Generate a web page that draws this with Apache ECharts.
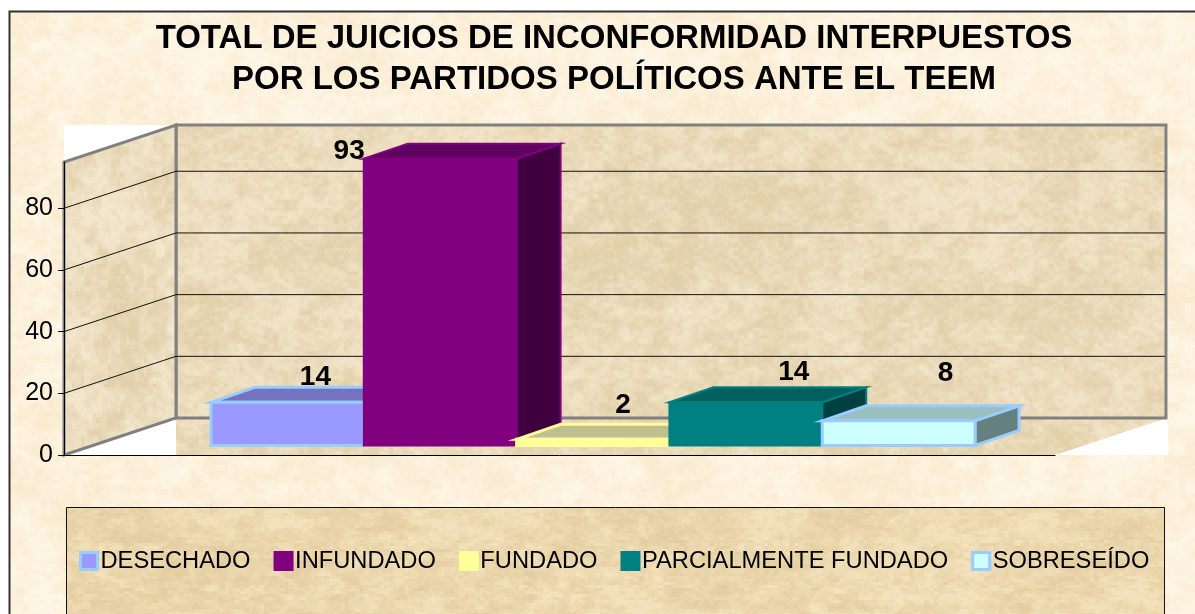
<!DOCTYPE html>
<html><head><meta charset="utf-8">
<style>html,body{margin:0;padding:0;background:#fff}#c{width:1195px;height:614px}</style>
<script src="https://cdn.jsdelivr.net/npm/echarts@6/dist/echarts.min.js"></script>
</head><body><div id="c"></div>
<script>
// ---------- data ----------
const titleLines = ['TOTAL DE JUICIOS DE INCONFORMIDAD INTERPUESTOS','POR LOS PARTIDOS POLÍTICOS ANTE EL TEEM'];
const seriesNames = ['DESECHADO','INFUNDADO','FUNDADO','PARCIALMENTE FUNDADO','SOBRESEÍDO'];
const seriesValues = [14,93,2,14,8];
const yTicks = [0,20,40,60,80];
const yMax = 95;

// ---------- style ----------
const front = ['#9999FF','#800080','#FFFF99','#008080','#CCFFFF'];
const topc  = ['#7373BF','#600060','#BFBF8F','#006060','#99BFBF'];
const side  = ['#4D4D80','#400040','#808060','#004040','#668080'];
const edge  = ['#99CCFF','#800080','#FFFF99','#008080','#99CCFF'];
const labelOffset = [[28,-25],[-91,-7],[30,-34],[48,-30],[47,-48]];
const wallDX = 112, wallDY = -37;      // depth of the chart box
const barShiftX = 33.5, barShiftY = -9.5; // bars stand inside the floor
const barDX = 44, barDY = -15;         // depth of each bar
const barShare = 0.1542;               // bar width as a share of the band
const GREY = '#808080';

// deterministic mottled paper texture
function hash(x,y,s){const v=Math.sin(x*127.1+y*311.7+s*74.7)*43758.5453;return v-Math.floor(v);}
function vnoise(x,y,s){
  const xi=Math.floor(x),yi=Math.floor(y),fx=x-xi,fy=y-yi;
  const u=fx*fx*(3-2*fx),w=fy*fy*(3-2*fy);
  const a=hash(xi,yi,s),b=hash(xi+1,yi,s),c=hash(xi,yi+1,s),d=hash(xi+1,yi+1,s);
  return (a+(b-a)*u)*(1-w)+(c+(d-c)*u)*w;
}
function texture(light,dark,block,seed,sx,sy){
  const W=1195,H=614,cv=document.createElement('canvas');cv.width=W;cv.height=H;
  const g=cv.getContext('2d');
  for(let y=0;y<H;y+=block)for(let x=0;x<W;x+=block){
    let n=0.3*vnoise(x/(70*sx),y/(50*sy),seed)+0.35*vnoise(x/(16*sx),y/(12*sy),seed+1)
         +0.35*vnoise(x/(5*sx),y/(4*sy),seed+2);
    n=Math.min(1,Math.max(0,(n-0.25)*2));
    n=Math.min(1,Math.max(0,n+(hash(x,y,seed+3)-0.5)*0.25));
    const c=light.map((l,i)=>Math.round(l+(dark[i]-l)*n));
    g.fillStyle='rgb('+c.join(',')+')';g.fillRect(x,y,block,block);
  }
  return cv;
}
const paperTex = texture([254,246,230],[250,235,208],3,1,1.2,1.2);
const wallTex  = texture([241,228,200],[226,208,170],2,5,1,1);
const sideTex  = texture([243,231,206],[226,208,170],3,9,0.9,1.5);
const boxTex   = texture([243,226,188],[228,205,160],3,13,1,0.7);
const fill = cv => ({image:cv,repeat:'repeat'});

function renderFrame(params,api){
  const O=api.coord([0,0]), T=api.coord([0,yMax]);
  const band=api.size([1,0])[0];
  const x0=O[0]-band/2, x1=O[0]+band/2, y0=O[1], yT=T[1];
  const kids=[];
  // white chart-area backing
  kids.push({type:'rect',shape:{x:x0,y:yT+wallDY,width:band+wallDX+1,height:y0-yT-wallDY},style:{fill:'#fff'}});
  // floor
  kids.push({type:'polygon',shape:{points:[[x0+wallDX,y0+wallDY],[x1+wallDX,y0+wallDY],[x1,y0],[x0+wallDX,y0]]},style:{fill:fill(wallTex)}});
  // back wall
  kids.push({type:'rect',shape:{x:x0+wallDX,y:yT+wallDY,width:band-1,height:y0-yT},style:{fill:fill(wallTex),stroke:GREY,lineWidth:3}});
  // left wall
  kids.push({type:'polygon',shape:{points:[[x0,y0],[x0+wallDX,y0+wallDY],[x0+wallDX,yT+wallDY],[x0,yT]]},style:{fill:fill(sideTex),stroke:GREY,lineWidth:3}});
  // grid lines
  yTicks.slice(1).forEach(t=>{
    const y=api.coord([0,t])[1];
    kids.push({type:'polyline',shape:{points:[[x0,y],[x0+wallDX,y+wallDY],[x1+wallDX-2,y+wallDY]]},style:{fill:null,stroke:'#111',lineWidth:1}});
  });
  return {type:'group',children:kids};
}

function renderBar(i){
  return function(params,api){
    const v=api.value(1), B=api.coord([0,0]), P=api.coord([0,v]);
    const band=api.size([1,0])[0], w=band*barShare;
    const x=B[0]+(i-2.5)*w+barShiftX, X=x+w, y=P[1]+barShiftY, b=B[1]+barShiftY;
    const s={stroke:edge[i],lineWidth:i===1||i===3?2:3,lineJoin:'miter',miterLimit:10};
    const dx=barDX,dy=barDY;
    return {type:'group',children:[
      {type:'polygon',shape:{points:[[X,y],[X+dx,y+dy],[X+dx,b+dy],[X,b]]},style:Object.assign({fill:side[i]},s)},
      {type:'polygon',shape:{points:[[x,y],[x+dx,y+dy],[X+dx,y+dy],[X,y]]},style:Object.assign({fill:topc[i]},s)},
      {type:'rect',shape:{x:x,y:y,width:w,height:b-y},style:Object.assign({fill:front[i]},s)},
      {type:'text',z2:50,style:{text:String(v),x:(x+X)/2+labelOffset[i][0],y:y+labelOffset[i][1],
        align:'center',verticalAlign:'middle',fill:'#000',
        font:'bold 28px "Liberation Sans", Arial, sans-serif'}}
    ]};
  };
}

const chart=echarts.init(document.getElementById('c'),null,{renderer:'canvas'});
const font='"Liberation Sans", Arial, sans-serif';
chart.setOption({
  animation:false,
  backgroundColor:'#fff',
  title:{text:titleLines.join('\n'),left:609,top:13,textAlign:'center',
    textStyle:{fontFamily:font,fontWeight:'bold',fontSize:33,lineHeight:41,color:'#000',letterSpacing:1.05}},
  graphic:[
    {type:'rect',z:-2,shape:{x:9.5,y:11.5,width:1300,height:700},style:{fill:fill(paperTex),stroke:'#333',lineWidth:2}},
    {type:'rect',z:-1,shape:{x:66.5,y:507.5,width:1098,height:200},style:{fill:fill(boxTex),stroke:'#111',lineWidth:1}}
  ],
  grid:{left:64,top:162,width:991,height:293,containLabel:false},
  xAxis:{type:'category',data:[''],axisLine:{show:true,lineStyle:{color:'#000',width:1}},axisTick:{show:false},axisLabel:{show:false},splitLine:{show:false},z:5},
  yAxis:{type:'value',min:0,max:yMax,interval:20,
    axisLine:{show:true,lineStyle:{color:'#000',width:1}},
    axisTick:{show:true,length:6,lineStyle:{color:'#000'},customValues:yTicks},
    axisLabel:{color:'#000',fontSize:25,fontFamily:font,margin:11,customValues:yTicks},
    splitLine:{show:false},z:5},
  legend:{left:74,top:544,itemWidth:17,itemHeight:17,itemGap:23,selectedMode:false,
    textStyle:{fontFamily:font,fontSize:23.7,color:'#000',padding:[0,0,0,-2]},
    data:seriesNames.map((n,i)=>({name:n,icon:'rect',itemStyle:{color:front[i],borderColor:edge[i],borderWidth:3}}))},
  series:[
    {type:'custom',name:'__frame',silent:true,z:1,renderItem:renderFrame,data:[[0,0]],encode:{x:0,y:1}}
  ].concat(seriesNames.map((n,i)=>({
    type:'custom',name:n,z:2+i,renderItem:renderBar(i),data:[[0,seriesValues[i]]],encode:{x:0,y:1},
    itemStyle:{color:front[i]},clip:false
  })))
});
</script></body></html>
